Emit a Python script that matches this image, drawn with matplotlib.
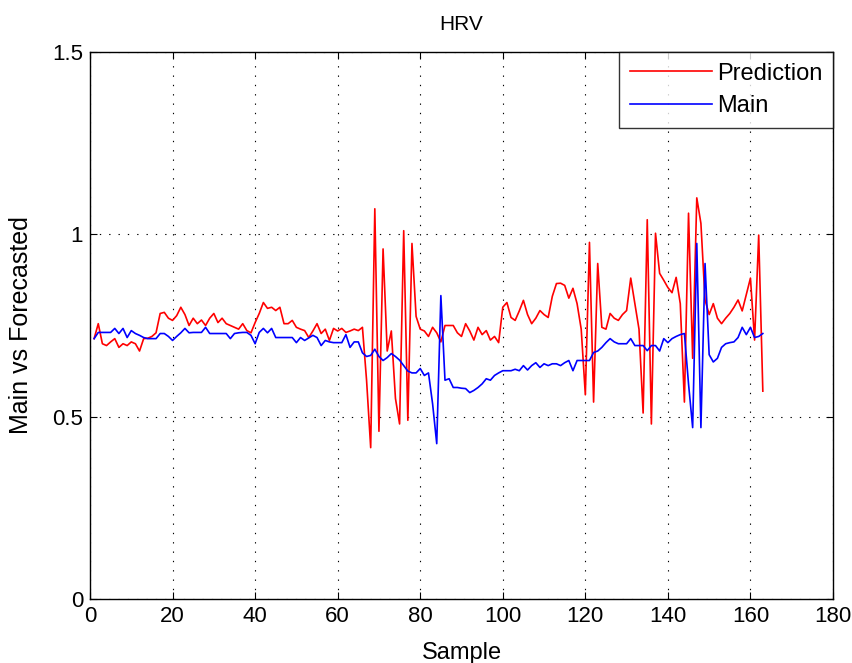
import matplotlib
matplotlib.use("Agg")
import matplotlib.pyplot as plt
import numpy as np

# Forecast output, one value per sample
prediction = [
    0.714, 0.755, 0.700, 0.695, 0.705, 0.714, 0.690, 0.700, 0.695, 0.705,
    0.700, 0.680, 0.714, 0.715, 0.720, 0.730, 0.783, 0.786, 0.770, 0.764,
    0.777, 0.800, 0.780, 0.750, 0.770, 0.755, 0.765, 0.750, 0.770, 0.783,
    0.758, 0.770, 0.755, 0.750, 0.745, 0.740, 0.755, 0.736, 0.730, 0.758,
    0.783, 0.813, 0.797, 0.800, 0.791, 0.800, 0.755, 0.755, 0.764, 0.745,
    0.740, 0.736, 0.717, 0.735, 0.755, 0.728, 0.740, 0.709, 0.742, 0.735,
    0.742, 0.731, 0.735, 0.740, 0.736, 0.745, 0.600, 0.415, 1.070, 0.460,
    0.960, 0.680, 0.735, 0.550, 0.480, 1.010, 0.490, 0.975, 0.775, 0.740,
    0.735, 0.720, 0.745, 0.730, 0.705, 0.750, 0.750, 0.750, 0.730, 0.720,
    0.755, 0.735, 0.710, 0.745, 0.725, 0.736, 0.710, 0.720, 0.703, 0.800,
    0.813, 0.772, 0.764, 0.790, 0.819, 0.780, 0.755, 0.770, 0.791, 0.780,
    0.772, 0.830, 0.865, 0.866, 0.860, 0.825, 0.852, 0.810, 0.740, 0.560,
    0.978, 0.540, 0.920, 0.745, 0.740, 0.783, 0.770, 0.764, 0.780, 0.791,
    0.880, 0.810, 0.740, 0.510, 1.040, 0.480, 1.003, 0.893, 0.874, 0.854,
    0.840, 0.882, 0.810, 0.540, 1.058, 0.660, 1.100, 1.030, 0.820, 0.780,
    0.810, 0.770, 0.755, 0.770, 0.783, 0.800, 0.820, 0.790, 0.835, 0.880,
    0.710, 0.998, 0.570,
]

# Measured signal, one value per sample
main = [
    0.714, 0.731, 0.731, 0.731, 0.731, 0.742, 0.728, 0.742, 0.717, 0.736,
    0.728, 0.723, 0.717, 0.714, 0.714, 0.714, 0.728, 0.728, 0.720, 0.709,
    0.720, 0.730, 0.742, 0.730, 0.731, 0.731, 0.731, 0.745, 0.728, 0.728,
    0.728, 0.728, 0.728, 0.714, 0.728, 0.730, 0.731, 0.731, 0.723, 0.700,
    0.731, 0.742, 0.730, 0.742, 0.717, 0.717, 0.717, 0.717, 0.717, 0.703,
    0.717, 0.709, 0.716, 0.723, 0.717, 0.695, 0.709, 0.705, 0.703, 0.703,
    0.703, 0.725, 0.690, 0.705, 0.705, 0.675, 0.665, 0.668, 0.685, 0.665,
    0.654, 0.662, 0.673, 0.665, 0.655, 0.640, 0.625, 0.620, 0.620, 0.632,
    0.613, 0.620, 0.535, 0.426, 0.832, 0.600, 0.604, 0.580, 0.580, 0.578,
    0.577, 0.566, 0.572, 0.580, 0.590, 0.604, 0.600, 0.613, 0.620, 0.626,
    0.626, 0.626, 0.630, 0.626, 0.640, 0.628, 0.640, 0.648, 0.635, 0.645,
    0.640, 0.645, 0.645, 0.640, 0.648, 0.654, 0.626, 0.654, 0.654, 0.654,
    0.654, 0.676, 0.680, 0.690, 0.703, 0.714, 0.705, 0.700, 0.700, 0.700,
    0.714, 0.695, 0.695, 0.695, 0.681, 0.695, 0.695, 0.680, 0.714, 0.703,
    0.714, 0.720, 0.725, 0.728, 0.590, 0.470, 0.975, 0.470, 0.920, 0.670,
    0.650, 0.660, 0.690, 0.700, 0.703, 0.705, 0.717, 0.745, 0.725, 0.745,
    0.717, 0.720, 0.728,
]

samples = np.arange(1, len(prediction) + 1)

x_ticks = [0, 20, 40, 60, 80, 100, 120, 140, 160, 180]
y_ticks = [0, 0.5, 1, 1.5]
y_tick_labels = ["0", "0.5", "1", "1.5"]

plt.rcParams["font.family"] = ["Liberation Sans", "DejaVu Sans"]

fig = plt.figure(figsize=(8.52, 6.63), dpi=100)
ax = fig.add_axes([90 / 852, 64 / 663, 743 / 852, 547 / 663])

ax.plot(samples, prediction, color="#ff0000", lw=1.2, label="Prediction")
ax.plot(samples, main, color="#0000ff", lw=1.2, label="Main")

ax.set_xlim(0, 180)
ax.set_ylim(0, 1.5)
ax.set_xticks(x_ticks)
ax.set_yticks(y_ticks)
ax.set_yticklabels(y_tick_labels)
ax.tick_params(direction="in", top=True, right=True, length=5, width=0.8,
               labelsize=16, pad=5)
ax.grid(True, color="black", linestyle=(0, (1.2, 7.2)), linewidth=0.8)
for s in ax.spines.values():
    s.set_linewidth(1.0)

ax.set_title("HRV", fontsize=15, pad=16)
ax.set_xlabel("Sample", fontsize=17, labelpad=11)
ax.set_ylabel("Main vs Forecasted", fontsize=18, labelpad=14)

leg = ax.legend(loc="upper right", fontsize=17, frameon=True, fancybox=False,
                borderaxespad=0.0, handlelength=3.5, handletextpad=0.2,
                borderpad=0.45, labelspacing=0.45, edgecolor="black")
leg.get_frame().set_linewidth(1.0)

fig.savefig("out.png", dpi=100, facecolor="white")
